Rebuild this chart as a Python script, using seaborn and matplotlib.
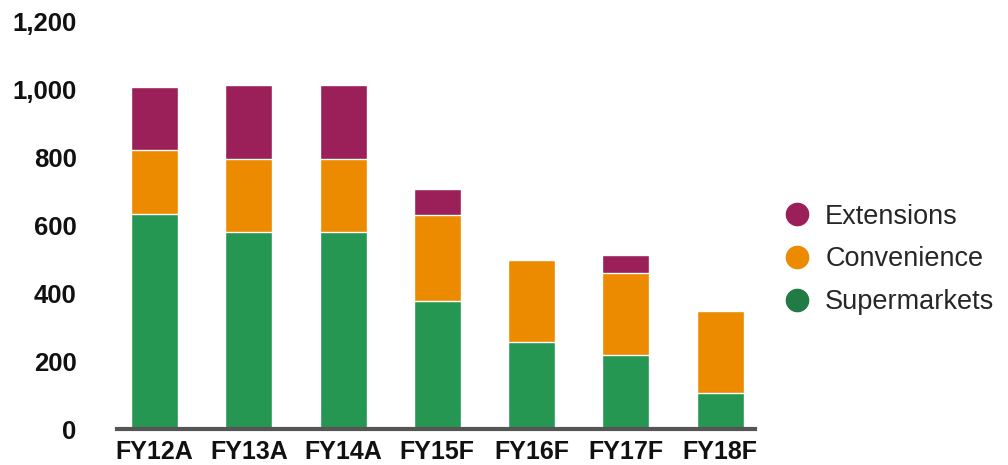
import pandas as pd
import matplotlib
matplotlib.use("Agg")
import matplotlib.pyplot as plt
import seaborn as sns
from matplotlib.lines import Line2D
from matplotlib.ticker import FuncFormatter

# values
years = ["FY12A", "FY13A", "FY14A", "FY15F", "FY16F", "FY17F", "FY18F"]
supermarkets = [633, 581, 582, 379, 257, 220, 106]
convenience = [190, 215, 215, 252, 241, 241, 242]
extensions = [185, 219, 216, 77, 0, 52, 0]

col_ext = "#9B1F58"
col_conv = "#EC8A00"
col_super = "#259752"

df = pd.DataFrame({"year": years, "Supermarkets": supermarkets,
                   "Convenience": convenience, "Extensions": extensions})
df["conv_top"] = df["Supermarkets"] + df["Convenience"]
df["total"] = df["conv_top"] + df["Extensions"]

sns.set_style("white")
plt.rcParams["font.family"] = ["Liberation Sans", "DejaVu Sans"]

fig = plt.figure(figsize=(10.08, 4.65), dpi=100)
ax = fig.add_axes([0.116, 0.077, 0.633, 0.876])

# stacked bars: draw cumulative totals from the top down
sns.barplot(data=df, x="year", y="total", color=col_ext, width=0.5, saturation=1, ax=ax)
sns.barplot(data=df, x="year", y="conv_top", color=col_conv, width=0.5, saturation=1, ax=ax)
sns.barplot(data=df, x="year", y="Supermarkets", color=col_super, width=0.5, saturation=1, ax=ax)

ax.set_ylim(0, 1200)
ax.set_xlim(-0.4, 6.37)
ax.set_yticks(range(0, 1201, 200))
ax.yaxis.set_major_formatter(FuncFormatter(lambda v, p: f"{int(v):,}"))
ax.set_xlabel("")
ax.set_ylabel("")

for s in ["top", "right", "left"]:
    ax.spines[s].set_visible(False)
ax.spines["bottom"].set_color("#555555")
ax.spines["bottom"].set_linewidth(3)

ax.tick_params(axis="y", length=0, pad=29, labelsize=18.5)
ax.tick_params(axis="x", length=0, pad=8, labelsize=18)
for lab in ax.get_xticklabels() + ax.get_yticklabels():
    lab.set_fontweight("bold")
    lab.set_color("#111111")

handles = [Line2D([], [], marker="o", linestyle="", markersize=16, color=c)
           for c in [col_ext, col_conv, "#217B44"]]
fig.legend(handles, ["Extensions", "Convenience", "Supermarkets"],
           loc="center left", bbox_to_anchor=(0.777, 0.442), frameon=False,
           fontsize=19.5, handlelength=1, handletextpad=0.55, labelspacing=0.62,
           borderpad=0, borderaxespad=0)

fig.savefig("out.png", dpi=100)
